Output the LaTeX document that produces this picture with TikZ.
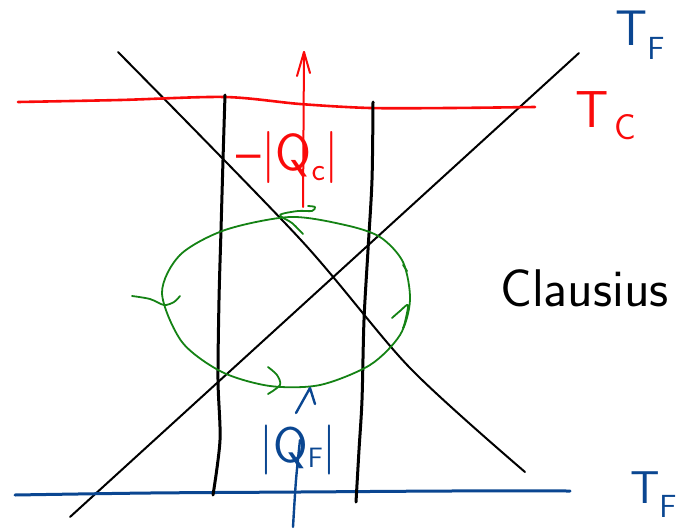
\documentclass[tikz,border=0pt]{standalone}
\definecolor{inkred}{RGB}{250,10,10}
\definecolor{inkblue}{RGB}{10,70,145}
\definecolor{inkgreen}{RGB}{20,130,20}
\newcommand{\fsz}[1]{\fontsize{#1}{#1}\selectfont}
\begin{document}
\begin{tikzpicture}[x=1pt,y=-1pt,line cap=round,line join=round,
  blk/.style={draw=black,line width=3pt},
  diag/.style={draw=black,line width=2pt},
  redpen/.style={draw=inkred,line width=2.6pt},
  bluepen/.style={draw=inkblue,line width=3pt},
  greenpen/.style={draw=inkgreen,line width=1.8pt},
  lbl/.style={inner sep=0pt}]
\useasboundingbox (0,0) rectangle (680,530);
% black diagonals
\draw[diag] plot[smooth] coordinates {(118,52) (300,239) (410,368) (525,472)};
\draw[diag] (70,517) -- (579,53);
% red T_C line
\draw[redpen] plot[smooth] coordinates {(18,102) (120,100) (225,97) (300,104) (370,108) (450,108) (535,107)};
% blue T_F line
\draw[bluepen] plot[smooth] coordinates {(15,495) (150,493) (300,492) (450,491) (570,491)};
% black verticals
\draw[blk] plot[smooth] coordinates {(225,95) (223,160) (221,230) (219,300) (218,380) (220,440) (213,495)};
\draw[blk] plot[smooth] coordinates {(373,102) (372,180) (368,250) (364,320) (362,400) (359,450) (356,502)};
% green cycle
\draw[greenpen] plot[smooth cycle] coordinates {(162,293) (180,255) (225,230) (290,217) (345,225) (380,237) (403,262) (410,300) (400,335) (370,365) (320,385) (270,386) (222,372) (182,342)};
\draw[greenpen] plot[smooth] coordinates {(132,296) (150,299) (164,305) (174,302) (180,296)};
\draw[greenpen] plot[smooth] coordinates {(303,234) (292,223) (280,215) (298,211) (312,211) (315,207) (308,206)};
\draw[greenpen] plot[smooth] coordinates {(392,318) (400,311) (408,305) (405,322) (403,328)};
\draw[greenpen] (403,265) -- (407,271);
\draw[greenpen] plot[smooth] coordinates {(268,367) (277,375) (280,385) (268,394)};
% red arrow
\draw[draw=inkred,line width=2pt] (303,207) -- (304,52);
\draw[draw=inkred,line width=2pt] (297,76) -- (304,52) -- (310,73);
% blue arrow
\draw[draw=inkblue,line width=2.4pt] plot[smooth] coordinates {(293,527) (296,480) (300,440)};
\draw[draw=inkblue,line width=2.4pt] (296,413) -- (310,388) -- (315,404);
% labels
\node[lbl,text=inkred,font=\sffamily\fsz{52},anchor=base] (qc) at (288,170) {--|Q\raisebox{-0.2em}{\fsz{32}c}|};
\node[lbl,text=inkblue,font=\sffamily\fsz{50},anchor=base] (qf) at (298,462) {|Q\raisebox{-0.1em}{\fsz{28}F}|};
\node[lbl,text=inkred,font=\sffamily\fsz{52}] (tc) at (592,110) {T};
\node[lbl,text=inkred,font=\sffamily\fsz{36}] (tcs) at (625,127) {C};
\node[lbl,text=inkblue,font=\sffamily\fsz{50}] (tf1) at (632,28) {T};
\node[lbl,text=inkblue,font=\sffamily\fsz{32}] (tf1s) at (656,48) {F};
\node[lbl,text=inkblue,font=\sffamily\fsz{46}] (tf2) at (645,488) {T};
\node[lbl,text=inkblue,font=\sffamily\fsz{32}] (tf2s) at (668,506) {F};
\node[lbl,anchor=base west,font=\sffamily\fsz{53}] (cl) at (500,306) {Clausius};
\end{tikzpicture}
\end{document}
